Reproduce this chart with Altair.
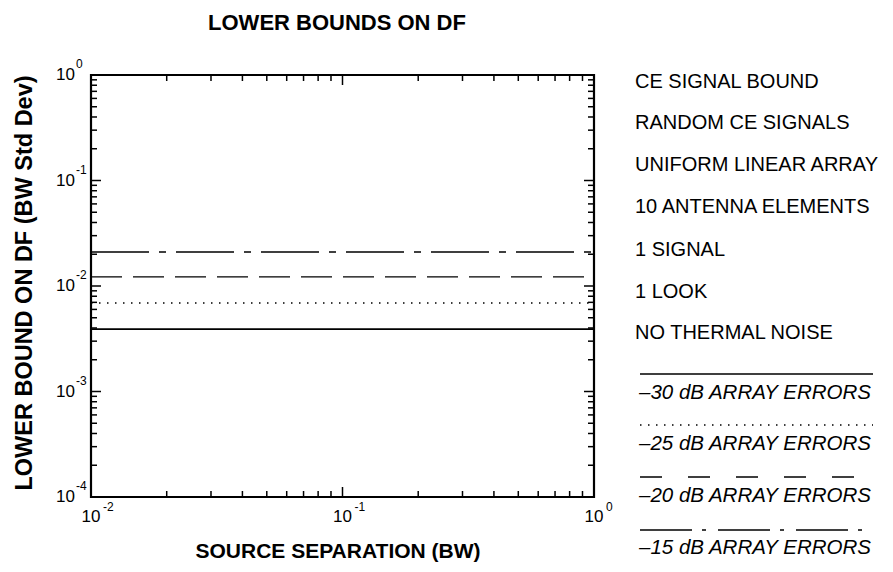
import altair as alt
import pandas as pd

# ---------------- data ----------------
x_span = [0.01, 1.0]                      # source separation (BW) range of the curves
series_names = ["–30 dB ARRAY ERRORS", "–25 dB ARRAY ERRORS",
                "–20 dB ARRAY ERRORS", "–15 dB ARRAY ERRORS"]
series_values = [0.0039, 0.0069, 0.0122, 0.021]   # lower bound on DF (BW std dev)

x_decades = [0.01, 0.1, 1.0]
x_exps = ["-2", "-1", "0"]
y_decades = [1e-4, 1e-3, 1e-2, 1e-1, 1.0]
y_exps = ["-4", "-3", "-2", "-1", "0"]
minor_mult = [2, 3, 4, 5, 6, 7, 8, 9]

info_lines = ["CE SIGNAL BOUND", "RANDOM CE SIGNALS", "UNIFORM LINEAR ARRAY",
              "10 ANTENNA ELEMENTS", "1 SIGNAL", "1 LOOK", "NO THERMAL NOISE"]

# ---------------- layout / style ----------------
W, H = 503, 422
FONT = "Liberation Sans"
dashes = [[1, 0], [1.5, 6.5], [31, 11], [58, 10, 7, 10]]
legend_dashes = [[1, 0], [1.5, 6.5], [22, 26], [52, 10, 4, 12]]
line_w = [1.6, 1.3, 1.6, 1.6]
MAJ, MIN = 10, 6

xs = alt.Scale(type="log", domain=[0.01, 1.0], nice=False)
ys = alt.Scale(type="log", domain=[1e-4, 1.0], nice=False)

rows = []
for name, v in zip(series_names, series_values):
    for x in x_span:
        rows.append({"series": name, "sep": x, "bound": v})
df = pd.DataFrame(rows)

curves = alt.Chart(df).mark_line(color="black").encode(
    x=alt.X("sep:Q", scale=xs, axis=None),
    y=alt.Y("bound:Q", scale=ys, axis=None),
    strokeDash=alt.StrokeDash("series:N", scale=alt.Scale(domain=series_names, range=dashes), legend=None),
    strokeWidth=alt.StrokeWidth("series:N", scale=alt.Scale(domain=series_names, range=line_w), legend=None),
)

layers = [curves]

# ---- inward ticks on all four sides (rules drawn from tick values through the scales) ----
x_minor = [m * d for d in x_decades[:-1] for m in minor_mult]
y_minor = [m * d for d in y_decades[:-1] for m in minor_mult]

tick_rows = []
for v in x_decades:
    tick_rows.append({"axis": "x", "v": v, "kind": "major"})
for v in x_minor:
    tick_rows.append({"axis": "x", "v": v, "kind": "minor"})
for v in y_decades:
    tick_rows.append({"axis": "y", "v": v, "kind": "major"})
for v in y_minor:
    tick_rows.append({"axis": "y", "v": v, "kind": "minor"})
ticks_df = pd.DataFrame(tick_rows)

for kind, L in [("major", MAJ), ("minor", MIN)]:
    xt = alt.Chart(ticks_df).transform_filter(f"datum.axis == 'x' && datum.kind == '{kind}'")
    yt = alt.Chart(ticks_df).transform_filter(f"datum.axis == 'y' && datum.kind == '{kind}'")
    # bottom and top edges
    layers.append(xt.mark_rule(color="black", strokeWidth=1.5).encode(
        x=alt.X("v:Q", scale=xs, axis=None), y=alt.value(H), y2=alt.value(H - L)))
    layers.append(xt.mark_rule(color="black", strokeWidth=1.5).encode(
        x=alt.X("v:Q", scale=xs, axis=None), y=alt.value(0), y2=alt.value(L)))
    # left and right edges
    layers.append(yt.mark_rule(color="black", strokeWidth=1.5).encode(
        y=alt.Y("v:Q", scale=ys, axis=None), x=alt.value(0), x2=alt.value(L)))
    layers.append(yt.mark_rule(color="black", strokeWidth=1.5).encode(
        y=alt.Y("v:Q", scale=ys, axis=None), x=alt.value(W), x2=alt.value(W - L)))

# ---- tick labels: "10" with superscript exponent ----
ydf = pd.DataFrame({"v": y_decades, "e": y_exps})
layers.append(alt.Chart(ydf).mark_text(align="right", baseline="middle", font=FONT, fontSize=17).encode(
    y=alt.Y("v:Q", scale=ys, axis=None), x=alt.value(-16), text=alt.value("10")))
layers.append(alt.Chart(ydf).mark_text(align="left", baseline="middle", font=FONT, fontSize=12, dy=-11).encode(
    y=alt.Y("v:Q", scale=ys, axis=None), x=alt.value(-15), text="e:N"))

xdf = pd.DataFrame({"v": x_decades, "e": x_exps})
layers.append(alt.Chart(xdf).mark_text(align="center", baseline="middle", font=FONT, fontSize=17).encode(
    x=alt.X("v:Q", scale=xs, axis=None), y=alt.value(H + 20), text=alt.value("10")))
layers.append(alt.Chart(xdf).mark_text(align="left", baseline="middle", font=FONT, fontSize=12, dx=12).encode(
    x=alt.X("v:Q", scale=xs, axis=None), y=alt.value(H + 10), text="e:N"))

one = pd.DataFrame({"k": [0]})

def label(txt, x, y, size, weight="normal", style="normal", align="left", angle=0):
    kw = dict(align=align, baseline="middle", font=FONT, fontSize=size,
              fontWeight=weight, fontStyle=style, text=txt)
    if angle:
        kw["angle"] = angle
    return alt.Chart(one).mark_text(**kw).encode(x=alt.value(x), y=alt.value(y))

# titles
layers.append(label("LOWER BOUNDS ON DF", 246, -52, 22, weight="bold", align="center"))
layers.append(label("SOURCE SEPARATION (BW)", 247, 477, 21, weight="bold", align="center"))
layers.append(label("LOWER BOUND ON DF (BW Std Dev)", -66, 208, 23.5, weight="bold", align="center", angle=270))

# ---- side legend ----
LX = 544
info_y = [7, 48, 90, 132, 175, 217, 258]
for txt, yy in zip(info_lines, info_y):
    layers.append(label(txt, LX, yy, 20))

leg_line_y = [299, 350, 402, 455]
leg_text_y = [318, 369, 421, 473]
for name, d, w, ly, ty in zip(series_names, legend_dashes, line_w, leg_line_y, leg_text_y):
    layers.append(alt.Chart(one).mark_rule(color="black", strokeWidth=w, strokeDash=d).encode(
        x=alt.value(549), x2=alt.value(782), y=alt.value(ly)))
    layers.append(label(name, LX + 4, ty, 20.5, style="italic"))

chart = alt.layer(*layers).properties(
    width=W, height=H,
    padding={"left": 83, "top": 67, "right": 291, "bottom": 75},
    autosize=alt.AutoSizeParams(type="none"),
    background="white",
).configure_view(stroke="black", strokeWidth=2.2)

chart.save("out.html", embed_options={"renderer": "svg", "actions": False})
